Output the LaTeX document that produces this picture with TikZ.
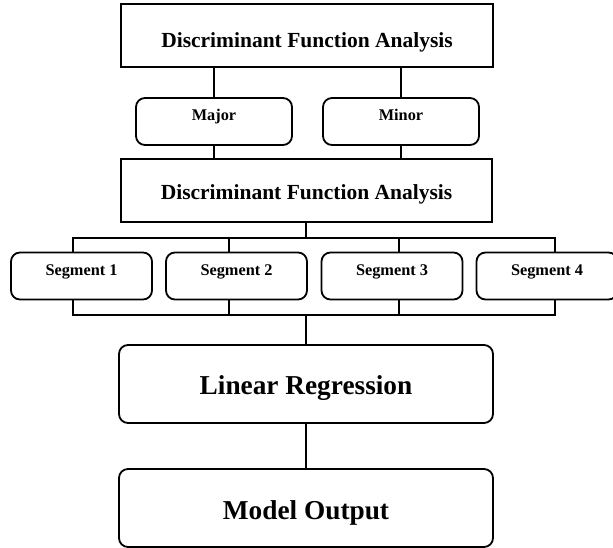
\documentclass[tikz,border=0pt]{standalone}
\usepackage{fontspec}
\setmainfont{Liberation Serif}
\begin{document}
\begin{tikzpicture}[x=1pt,y=-1pt,
  box/.style={draw,line width=1.8pt,inner sep=0pt,align=center},
  sqbox/.style={box,minimum width=372pt,minimum height=63pt,
    font=\fontsize{21.5}{24}\selectfont\bfseries},
  smallbox/.style={box,rounded corners=9pt,minimum width=156pt,minimum height=47pt,
    text height=11pt,text depth=12pt,font=\fontsize{16.3}{18}\selectfont\bfseries},
  segbox/.style={box,rounded corners=9pt,minimum width=141pt,minimum height=47pt,
    text height=11pt,text depth=13pt,font=\fontsize{16.3}{18}\selectfont\bfseries},
  bigbox/.style={box,rounded corners=9pt,minimum width=374pt,minimum height=78pt,
    font=\fontsize{27.3}{30}\selectfont\bfseries},
  conn/.style={line width=1.8pt}]
\clip (0,0) rectangle (613,548);
\fill[white] (0,0) rectangle (613,548);

\node[sqbox,text height=25pt,text depth=0pt] (top) at (307,35.5) {Discriminant Function Analysis};
\node[smallbox] (major) at (214,121.5) {Major};
\node[smallbox] (minor) at (401,121.5) {Minor};
\node[sqbox,minimum width=371pt,text height=19pt,text depth=0pt] (dfa) at (306.5,190.5) {Discriminant Function Analysis};

\node[segbox] (s1) at (81.5,276) {Segment 1};
\node[segbox] (s2) at (236.5,276) {Segment 2};
\node[segbox] (s3) at (392,276) {Segment 3};
\node[segbox] (s4) at (547,276) {Segment 4};

\node[bigbox,text height=20pt,text depth=0pt] (lr) at (306,384) {Linear Regression};
\node[bigbox,text height=22pt,text depth=0pt] (mo) at (306,508) {Model Output};

% connectors top
\draw[conn] (major.north) -- (major.north |- top.south);
\draw[conn] (minor.north) -- (minor.north |- top.south);
\draw[conn] (major.south) -- (major.south |- dfa.north);
\draw[conn] (minor.south) -- (minor.south |- dfa.north);

% branch bars
\coordinate (tL) at (73,238);
\coordinate (tR) at (555,238);
\coordinate (bL) at (73,315);
\coordinate (bR) at (555,315);
\coordinate (x2) at (229,0);
\coordinate (x3) at (399,0);
\coordinate (xc) at (306,0);

\draw[conn] (xc |- dfa.south) -- (xc |- tL);
\draw[conn,line cap=rect] (tL) -- (tR);
\draw[conn,line cap=rect] (bL) -- (bR);

\draw[conn] (tL) -- (tL |- s1.north);
\draw[conn] (x2 |- tL) -- (x2 |- s2.north);
\draw[conn] (x3 |- tL) -- (x3 |- s3.north);
\draw[conn] (tR) -- (tR |- s4.north);

\draw[conn] (bL) -- (bL |- s1.south);
\draw[conn] (x2 |- bL) -- (x2 |- s2.south);
\draw[conn] (x3 |- bL) -- (x3 |- s3.south);
\draw[conn] (bR) -- (bR |- s4.south);

\draw[conn] (xc |- bL) -- (xc |- lr.north);
\draw[conn] (lr.south) -- (mo.north);
\end{tikzpicture}
\end{document}
